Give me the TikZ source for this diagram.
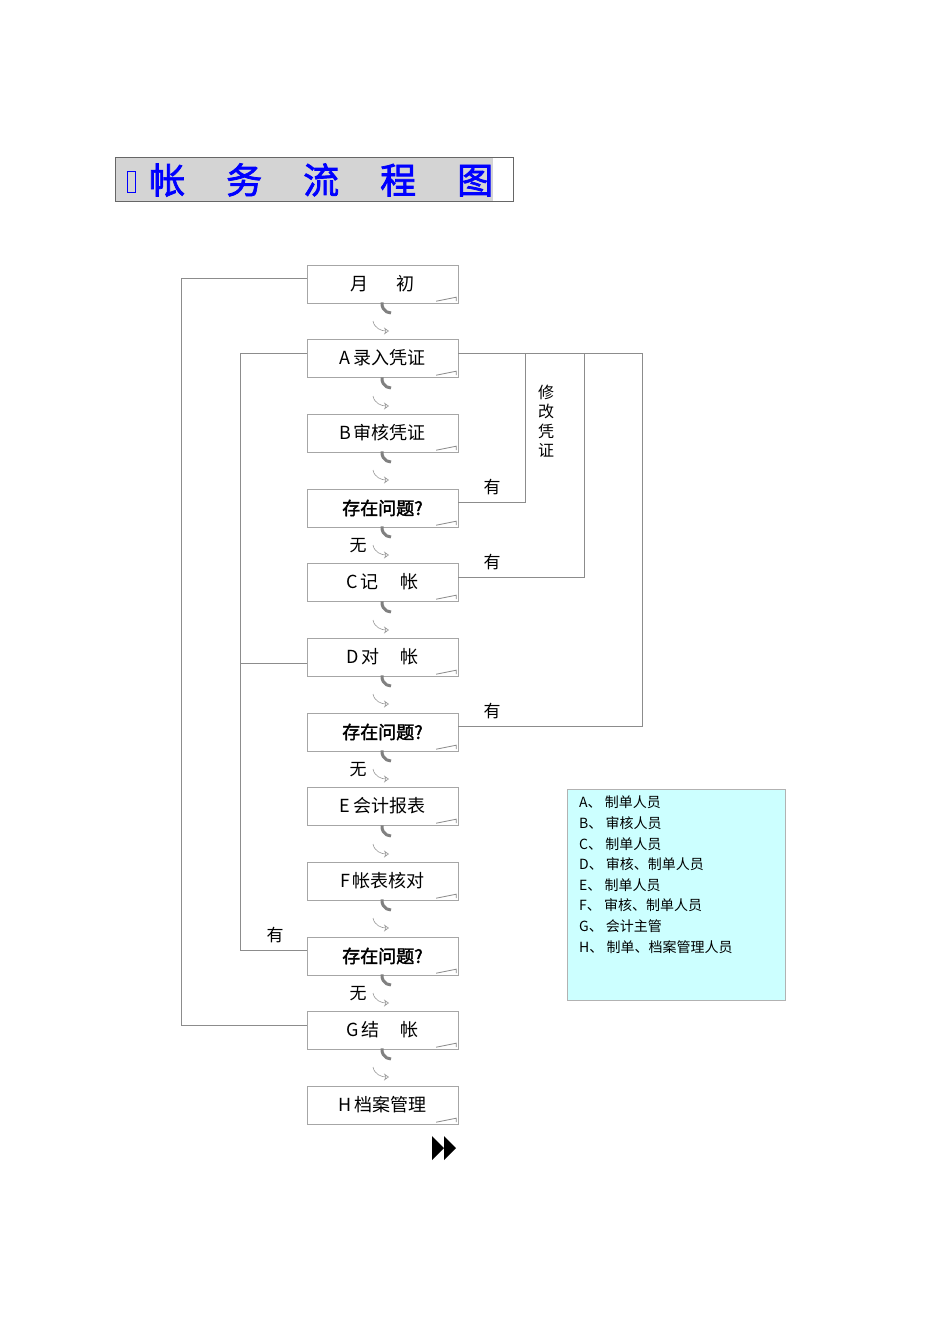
\documentclass[tikz,border=0pt]{standalone}
\usepackage{fontspec}
\usetikzlibrary{arrows.meta}
\setmainfont{Liberation Serif}
\newfontfamily\cjk{Noto Sans CJK SC}
\newfontfamily\cjkb{Noto Sans CJK SC}[FakeBold=2]
\definecolor{legfill}{HTML}{CCFFFF}
\begin{document}
\begin{tikzpicture}[x=1pt,y=-1pt,
  stepbox/.style={draw=black!35,minimum width=151pt,minimum height=38pt,inner sep=0pt,font=\cjk\fontsize{18}{18}\selectfont},
  ln/.style={draw=black!45,line width=0.6pt},
  lbl/.style={font=\cjk\fontsize{17}{17}\selectfont}]
\useasboundingbox (0,0) rectangle (950,1344);
% title
\fill[black!17] (115,157) rectangle (493,201);
\draw[black!60] (115,157) rectangle (513,201);
\draw[blue,line width=1pt] (127,171) rectangle (135,192);
\node[font=\cjkb\fontsize{36}{36}\selectfont,text=blue,anchor=west,inner sep=0pt] (title) at (149,180) {帐\hspace{41pt}务\hspace{41pt}流\hspace{41pt}程\hspace{41pt}图};
% boxes
\foreach \n/\y/\t in {m/284/月\hspace{1.6em}初, a/358/A\,录入凭证, b/433/B\,审核凭证, c/582/C\,记\hspace{1.2em}帐, d/657/D\,对\hspace{1.2em}帐, e/806/E\,会计报表, f/881/F\,帐表核对, g/1030/G\,结\hspace{1.2em}帐, h/1105/H\,档案管理}{
  \node[stepbox] (\n) at (382.5,\y) {\t};
  \draw[black!45,line width=0.8pt] (\n.south east)++(-22,-2) -- ++(20,-4) -- ++(0,4);
}
\foreach \n/\y in {q1/508, q2/732, q3/956}{
  \node[stepbox,font=\cjkb\fontsize{18}{18}\selectfont] (\n) at (382.5,\y) {存在问题?};
  \draw[black!45,line width=0.8pt] (\n.south east)++(-22,-2) -- ++(20,-4) -- ++(0,4);
}
% curl arrows
\foreach \y in {322,397,471,546,621,695,770,845,919,994,1068}{
  \draw[black!50,line width=3pt] (391,\y-9) arc (90:190:9);
  \draw[black!40,line width=0.6pt,-{Stealth[open,length=5pt,width=7pt]}] (373,\y-1) to[out=-80,in=180] (389,\y+9);
}
% connectors
\coordinate (L1) at (181,278); \coordinate (L2) at (181,1025);
\draw[ln] (m.west|-L1) -- (L1) -- (L2) -- (g.west|-L2);
\coordinate (K1) at (240,353); \coordinate (K2) at (240,950); \coordinate (K3) at (240,663);
\draw[ln] (a.west|-K1) -- (K1) -- (K2) -- (q3.west|-K2);
\draw[ln] (K3) -- (d.west|-K3);
\coordinate (R1) at (642,353); \coordinate (R2) at (642,726);
\draw[ln] (a.east|-R1) -- (R1) -- (R2) -- (q2.east|-R2);
\coordinate (S1) at (525,353); \coordinate (S2) at (525,502);
\draw[ln] (S1) -- (S2) -- (q1.east|-S2);
\coordinate (T1) at (584,353); \coordinate (T2) at (584,577);
\draw[ln] (T1) -- (T2) -- (c.east|-T2);
\node[lbl] (y1) at (492,487) {有};
\node[lbl] (y2) at (492,562) {有};
\node[lbl] (y3) at (492,711) {有};
\node[lbl] (y4) at (275,935) {有};
\node[lbl,align=center,font=\cjk\fontsize{16}{19.5}\selectfont] (xg) at (546,421) {修\\改\\凭\\证};
\node[lbl] (w1) at (358,546) {无};
\node[lbl] (w2) at (358,770) {无};
\node[lbl] (w3) at (358,994) {无};
% legend
\node[draw=black!30,fill=legfill,minimum width=218pt,minimum height=211pt,anchor=north west,inner sep=0pt] (leg) at (567,789) {};
\node[anchor=north west,align=left,font=\cjk\fontsize{14}{20.6}\selectfont,inner sep=0pt] (legt) at (579,796) {A、\ 制单人员\\B、\ 审核人员\\C、\ 制单人员\\D、\ 审核、制单人员\\E、\ 制单人员\\F、\ 审核、制单人员\\G、\ 会计主管\\H、\ 制单、档案管理人员};
% double arrow
\fill (432,1136) -- (444,1148) -- (432,1160) -- cycle;
\fill (444,1136) -- (456,1148) -- (444,1160) -- cycle;
\end{tikzpicture}
\end{document}
